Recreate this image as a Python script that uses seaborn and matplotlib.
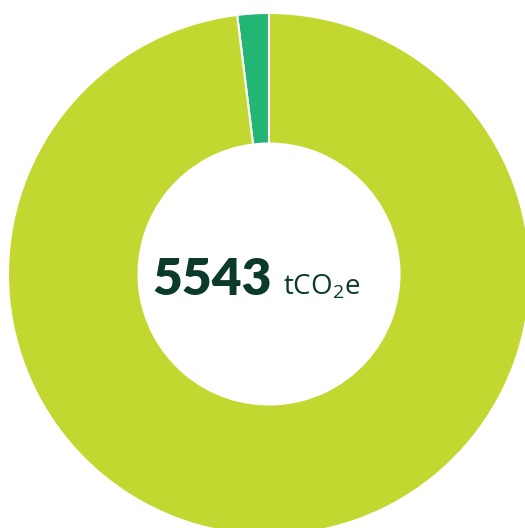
import matplotlib.pyplot as plt
import seaborn as sns

sns.set_theme(style="white")
plt.rcParams['mathtext.fontset'] = 'custom'
plt.rcParams['mathtext.rm'] = 'Open Sans'
plt.rcParams['mathtext.it'] = 'Open Sans'

# Emissions split (tCO2e)
labels = ['Other', 'Main']
values = [108, 5435]
colors = ['#22b573', '#c2d72f']
total_label = '5543'
unit_label = r'tCO$\mathrm{_2}$e'

fig = plt.figure(figsize=(5.25, 5.28), dpi=100)
ax = fig.add_axes([0, 0, 1, 1])

ax.pie(values, colors=colors, startangle=90, counterclock=True,
       wedgeprops=dict(width=0.5, edgecolor='white', linewidth=1.5))

# place donut centre so it is clipped like the reference
ax.set_xlim(-269 / 261, (525 - 269) / 261)
ax.set_ylim(-(528 - 274) / 261, 274 / 261)
ax.set_aspect('auto')
ax.axis('off')

ax.text(0.011, -0.080, total_label, ha='right', va='baseline',
        fontsize=37, fontweight='heavy', color='#0b3a2c',
        family=['Lato', 'DejaVu Sans'])
ax.text(0.054, -0.080, unit_label, ha='left', va='baseline',
        fontsize=20, color='#0b3a2c', family=['Open Sans', 'DejaVu Sans'])

fig.savefig('out.png', dpi=100)
